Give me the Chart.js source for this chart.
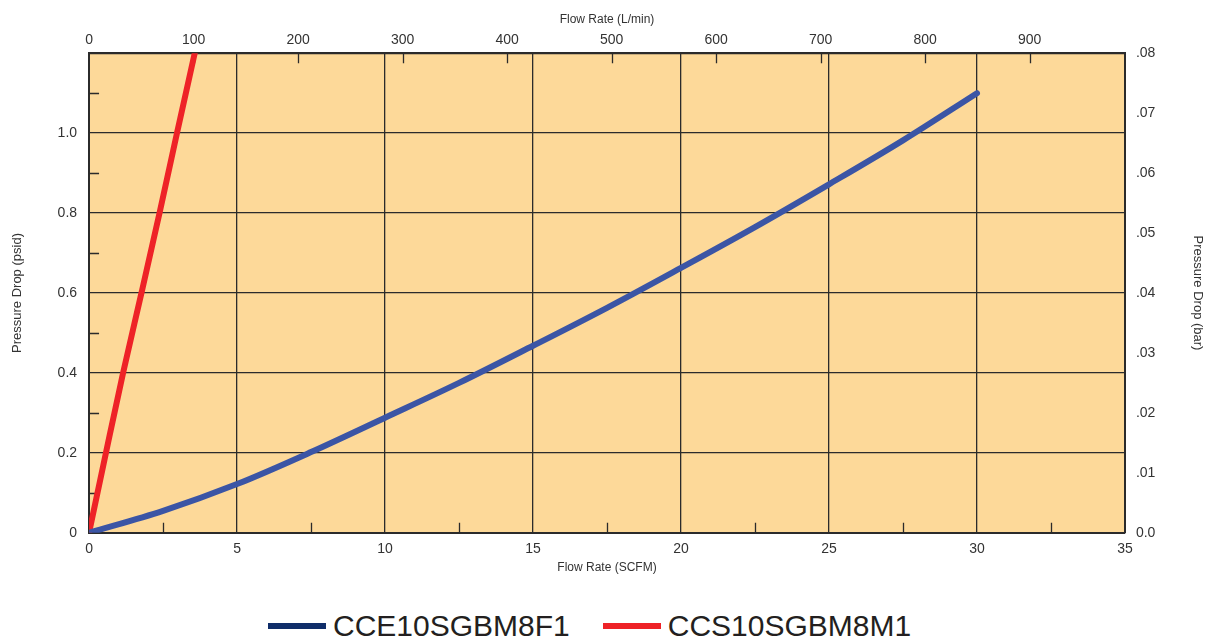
<!DOCTYPE html>
<html>
<head>
<meta charset="utf-8">
<script src="https://cdn.jsdelivr.net/npm/chart.js@4.4.0/dist/chart.umd.min.js"></script>
<style>
  html, body { margin: 0; padding: 0; background: #fff; }
  #wrap { position: relative; width: 1211px; height: 639px; }
  #chartBox { width: 1211px; height: 598px; }
  #legend {
    position: absolute; left: 268px; top: 610px; height: 32px;
    display: flex; align-items: center;
    font-family: 'Liberation Sans', Arial, Helvetica, sans-serif;
    font-size: 30px; line-height: 32px; color: #231f20;
  }
  #legend .item { display: flex; align-items: center; margin-right: 33px; }
  #legend .swatch { width: 58px; height: 6px; margin-right: 7px; }
</style>
</head>
<body>
<div id="wrap">
  <div id="chartBox"><canvas id="flowChart"></canvas></div>
  <div id="legend"></div>
</div>
<script>
// series data (x = SCFM, y = psid)
const cceFlow = [0, 2.5, 5, 7.5, 10, 12.5, 15, 17.5, 20, 22.5, 25, 27.5, 30];
const cceDrop = [0, 0.055, 0.122, 0.202, 0.288, 0.375, 0.468, 0.563, 0.663, 0.765, 0.872, 0.982, 1.1];
const ccsFlow = [0, 0.57, 1.15, 1.77, 2.38, 2.97, 3.57];
const ccsDrop = [0, 0.2, 0.4, 0.6, 0.8, 1.0, 1.2];

const seriesNames = ['CCE10SGBM8F1', 'CCS10SGBM8M1'];
const lineColors = ['#3b55a5', '#ee2227'];
const legendColors = ['#0f2d69', '#ee2227'];

// axis ticks
const scfmTicks = [0, 5, 10, 15, 20, 25, 30, 35];
const scfmMinor = [2.5, 7.5, 12.5, 17.5, 22.5, 27.5, 32.5];
const lpmTicks = [0, 100, 200, 300, 400, 500, 600, 700, 800, 900];
const psidTicks = [0, 0.2, 0.4, 0.6, 0.8, 1.0, 1.2];
const psidLabels = ['0', '0.2', '0.4', '0.6', '0.8', '1.0', ''];
const psidMinor = [0.1, 0.3, 0.5, 0.7, 0.9, 1.1];
const barTicks = [0, 0.01, 0.02, 0.03, 0.04, 0.05, 0.06, 0.07, 0.08];
const barLabels = ['0.0', '.01', '.02', '.03', '.04', '.05', '.06', '.07', '.08'];

const LPM_MAX = 35 * 28.317;
const FONT = "'Liberation Sans', Arial, Helvetica, sans-serif";
const INK = '#2b2b2b';
const TEXT = '#333333';

function toPoints(xs, ys) {
    return xs.map(function(x, i) { return { x: x, y: ys[i] }; });
}

function fixedTicks(values) {
    return function(scale) {
        scale.ticks = values.map(function(v) { return { value: v }; });
    };
}

// 塗りつぶし背景
const plotBackground = {
    id: 'plotBackground',
    beforeDraw: function(chart) {
        const a = chart.chartArea;
        const ctx = chart.ctx;
        ctx.save();
        ctx.fillStyle = '#fdd999';
        ctx.fillRect(a.left, a.top, a.right - a.left, a.bottom - a.top);
        ctx.restore();
    }
};

// 内向きの小目盛り
const innerTicks = {
    id: 'innerTicks',
    beforeDatasetsDraw: function(chart) {
        const a = chart.chartArea;
        const ctx = chart.ctx;
        const len = 10;
        ctx.save();
        ctx.strokeStyle = INK;
        ctx.lineWidth = 1.3;
        ctx.beginPath();
        scfmMinor.forEach(function(v) {
            const x = Math.round(chart.scales.x.getPixelForValue(v)) + 0.5;
            ctx.moveTo(x, a.bottom);
            ctx.lineTo(x, a.bottom - len);
        });
        lpmTicks.slice(1).forEach(function(v) {
            const x = Math.round(chart.scales.x2.getPixelForValue(v)) + 0.5;
            ctx.moveTo(x, a.top);
            ctx.lineTo(x, a.top + len);
        });
        psidMinor.forEach(function(v) {
            const y = Math.round(chart.scales.y.getPixelForValue(v)) + 0.5;
            ctx.moveTo(a.left, y);
            ctx.lineTo(a.left + len, y);
        });
        ctx.stroke();
        ctx.restore();
    }
};

const tickFont = { family: FONT, size: 14 };
const titleFont = { family: FONT, size: 12 };
const sideTitleFont = { family: FONT, size: 13 };

new Chart(document.getElementById('flowChart'), {
    type: 'line',
    data: {
        datasets: [
            {
                label: seriesNames[0],
                data: toPoints(cceFlow, cceDrop),
                borderColor: lineColors[0],
                backgroundColor: lineColors[0],
                borderWidth: 6,
                borderCapStyle: 'round',
                cubicInterpolationMode: 'monotone',
                pointRadius: 0,
                xAxisID: 'x',
                yAxisID: 'y'
            },
            {
                label: seriesNames[1],
                data: toPoints(ccsFlow, ccsDrop),
                borderColor: lineColors[1],
                backgroundColor: lineColors[1],
                borderWidth: 6,
                borderCapStyle: 'round',
                cubicInterpolationMode: 'monotone',
                pointRadius: 0,
                xAxisID: 'x',
                yAxisID: 'y'
            }
        ]
    },
    options: {
        responsive: true,
        maintainAspectRatio: false,
        animation: false,
        layout: { padding: { left: 2, right: 2, top: 4, bottom: 19 } },
        scales: {
            x: {
                type: 'linear',
                position: 'bottom',
                min: 0,
                max: 35,
                afterBuildTicks: fixedTicks(scfmTicks),
                ticks: { font: tickFont, color: TEXT, padding: 8, maxRotation: 0 },
                grid: { color: INK, lineWidth: 1.3, drawTicks: false },
                border: { color: INK, width: 2 },
                title: { display: true, text: 'Flow Rate (SCFM)', font: titleFont, color: TEXT, padding: { top: -5, bottom: 4 } }
            },
            x2: {
                type: 'linear',
                position: 'top',
                min: 0,
                max: LPM_MAX,
                afterBuildTicks: fixedTicks(lpmTicks),
                ticks: { font: tickFont, color: TEXT, padding: 5, maxRotation: 0 },
                grid: { drawOnChartArea: false, drawTicks: false },
                border: { color: INK, width: 2 },
                title: { display: true, text: 'Flow Rate (L/min)', font: titleFont, color: TEXT, padding: { top: 8, bottom: 0 } }
            },
            y: {
                type: 'linear',
                position: 'left',
                min: 0,
                max: 1.2,
                afterBuildTicks: fixedTicks(psidTicks),
                ticks: {
                    font: tickFont, color: TEXT, padding: 12,
                    callback: function(value, index) { return psidLabels[index]; }
                },
                grid: { color: INK, lineWidth: 1.3, drawTicks: false },
                border: { color: INK, width: 2 },
                title: { display: true, text: 'Pressure Drop (psid)', font: sideTitleFont, color: TEXT, padding: { top: 8, bottom: 20 } }
            },
            y2: {
                type: 'linear',
                position: 'right',
                min: 0,
                max: 0.08,
                afterBuildTicks: fixedTicks(barTicks),
                ticks: {
                    font: tickFont, color: TEXT, padding: 11,
                    callback: function(value, index) { return barLabels[index]; }
                },
                grid: { drawOnChartArea: false, drawTicks: false },
                border: { color: INK, width: 2 },
                title: { display: true, text: 'Pressure Drop (bar)', font: sideTitleFont, color: TEXT, padding: { top: 4, bottom: 23 } }
            }
        },
        plugins: {
            tooltip: { enabled: false },
            legend: { display: false }
        }
    },
    plugins: [plotBackground, innerTicks]
});

// 凡例
const legendEl = document.getElementById('legend');
seriesNames.forEach(function(name, i) {
    const item = document.createElement('div');
    item.className = 'item';
    const swatch = document.createElement('span');
    swatch.className = 'swatch';
    swatch.style.background = legendColors[i];
    const label = document.createElement('span');
    label.textContent = name;
    item.appendChild(swatch);
    item.appendChild(label);
    legendEl.appendChild(item);
});
</script>
</body>
</html>
